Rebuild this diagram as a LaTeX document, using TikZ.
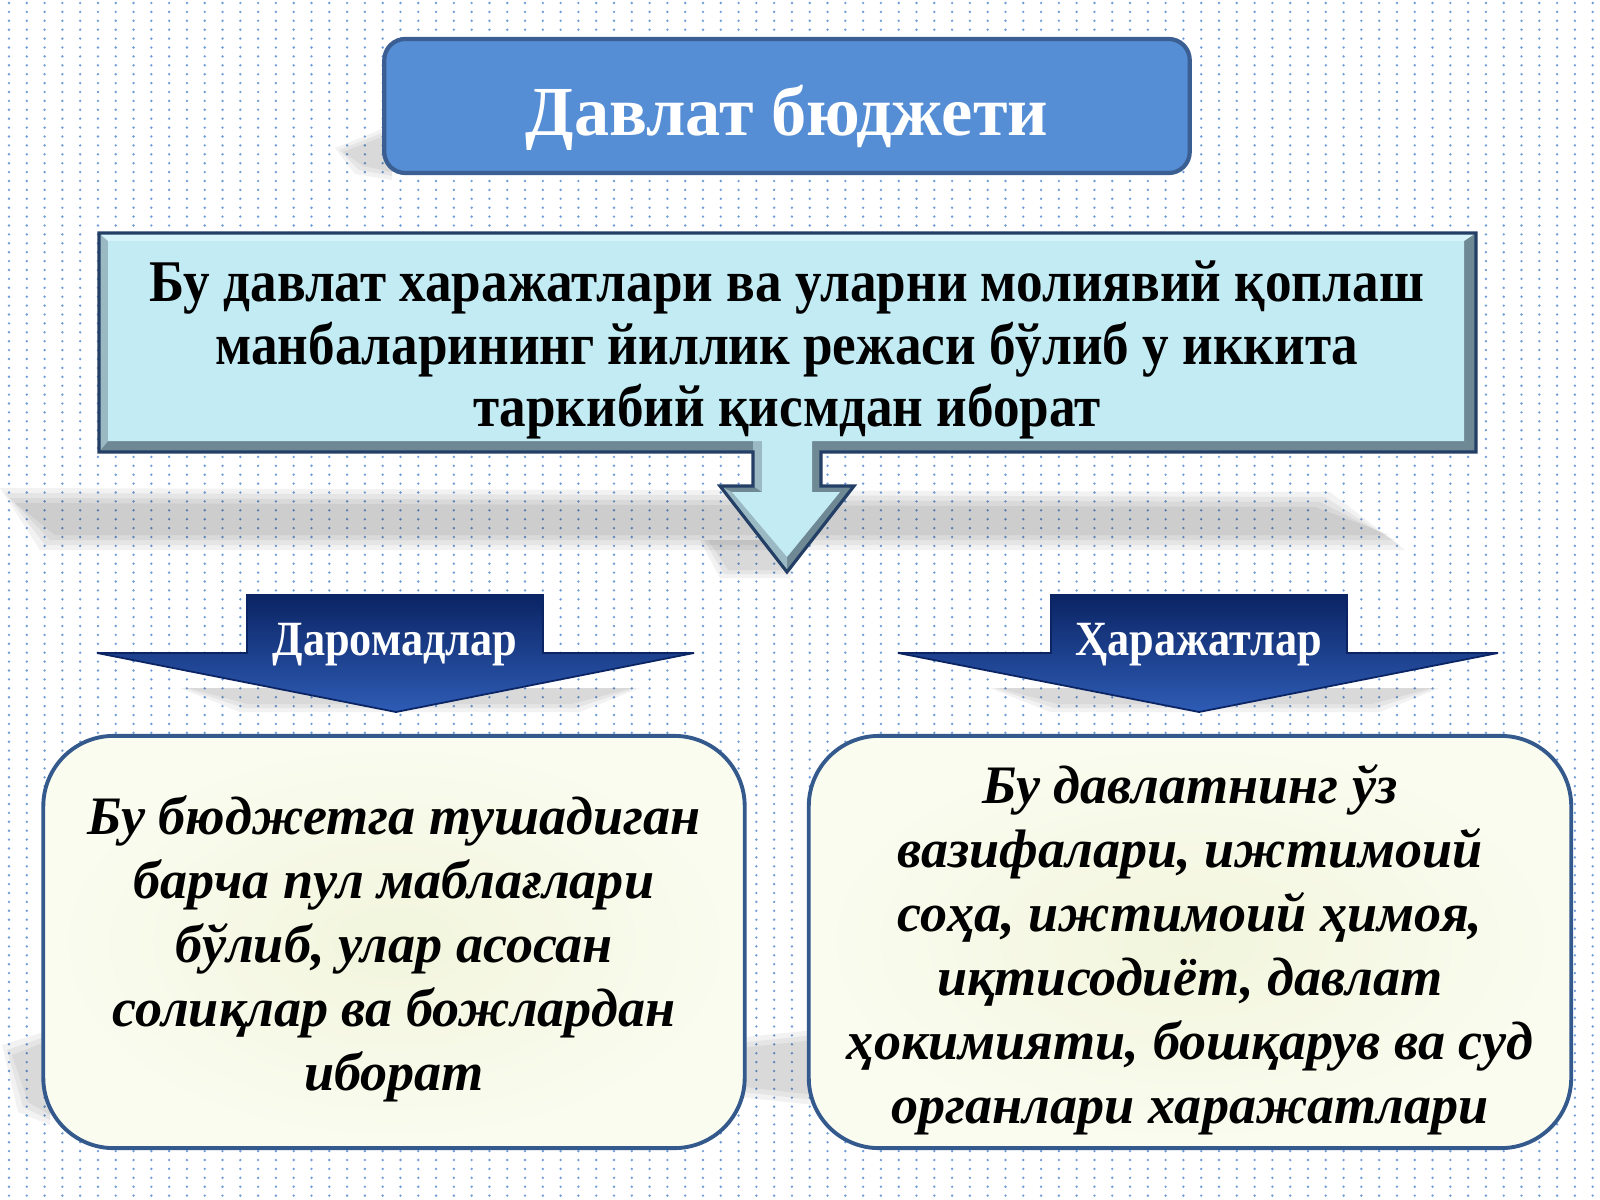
\documentclass[tikz,border=0pt]{standalone}
\usepackage{fontspec}
\setmainfont{Liberation Serif}
\usetikzlibrary{positioning}

\definecolor{titelblaa}{HTML}{558ED5}
\definecolor{titelkant}{HTML}{3B5F92}
\definecolor{lysblaa}{HTML}{C3EBF4}
\definecolor{lystopp}{HTML}{D6F3FA}
\definecolor{kantgraa}{HTML}{6E8894}
\definecolor{lysgraa}{HTML}{9BB9C3}
\definecolor{marine}{HTML}{243F66}
\definecolor{morkblaa}{HTML}{0B2464}
\definecolor{midtblaa}{HTML}{0E2C70}
\definecolor{kantblaa}{HTML}{2E5CB5}
\definecolor{krem}{HTML}{F2F5DC}
\definecolor{kremlys}{HTML}{FAFCF0}
\definecolor{boksekant}{HTML}{34598C}
\definecolor{prikk}{HTML}{6F9CD8}

\begin{document}
\begin{tikzpicture}[x=0.01cm,y=-0.01cm,font=\bfseries]
\tikzset{
    %Define style for the dotted background rows
    prikker/.style={
           draw=prikk,
           line width=0.75pt,
           line cap=round,
           dash pattern=on 0pt off 5.06pt},
    %Define style for soft shadows
    skygge/.style={
           fill=black,
           opacity=0.05,
           draw=none},
    %Define style for title box
    tittel/.style={
           rectangle,
           rounded corners=6pt,
           draw=titelkant, line width=1.2pt,
           fill=titelblaa,
           minimum width=8.05cm,
           minimum height=1.34cm},
    tittelskrift/.style={
           text=white,
           font=\bfseries\fontsize{20}{24}\selectfont},
    % Define style for the dark blue arrows
    pil/.style={
           top color=morkblaa,
           middle color=midtblaa,
           bottom color=kantblaa,
           draw=morkblaa,
           line width=0.5pt},
    pilnavn/.style={
           text=white,
           font=\bfseries\fontsize{14}{16}\selectfont\addfontfeature{FakeStretch=0.9}},
    % Define style for the lower boxes
    kasse/.style={
           rectangle,
           rounded corners=20pt,
           draw=boksekant, line width=1.1pt,
           inner color=krem,
           outer color=kremlys,
           minimum height=4.12cm},
    kasseskrift/.style={
           align=center,
           font=\bfseries\itshape\fontsize{15.4}{18.2}\selectfont}
}
	\useasboundingbox (0,0) rectangle (1600,1200);
	\fill[white] (0,0) rectangle (1600,1200);
	\foreach \r in {0,...,134}
		\draw[prikker] (9,\r*8.9+3) -- (1600,\r*8.9+3);

 %shadows
	\foreach \s in {0,5,10,15}
		\fill[skygge] (0+\s,488+\s) -- (1330-\s,492+\s) -- (1405-\s,550-\s) -- (40+\s,550-\s) -- cycle;
	\foreach \s in {0,4,8}
		\fill[skygge] (700+\s,540) -- (800-\s,540) -- (790-\s,578-\s) -- (720+\s,578-\s) -- cycle;
	\foreach \s in {0,4,8}
		\fill[skygge] (335+\s,148+\s/2) -- (392,125+\s) -- (392,180-\s) -- (355+\s,174-\s) -- cycle;
	\foreach \s in {0,4,8}
		\fill[skygge] (180+\s,688) -- (640-\s,688) -- (580-\s,712-\s) -- (240+\s,712-\s) -- cycle;
	\foreach \s in {0,4,8}
		\fill[skygge] (990+\s,688) -- (1440-\s,688) -- (1380-\s,712-\s) -- (1050+\s,712-\s) -- cycle;
	\foreach \s in {0,5,10}
		\fill[skygge] (2+\s,1045+\s) -- (50,1030+\s) -- (50,1125-\s) -- (18+\s,1112-\s) -- cycle;
	\foreach \s in {0,5,10}
		\fill[skygge] (665+\s,1045+\s) -- (815,1030+\s) -- (815,1105-\s) -- (690+\s,1092-\s) -- cycle;

 %nodes
	\node[tittel] (budsjett) at (787,106) {};
	\node[tittelskrift] (budsjettnavn) at ([yshift=-0.115cm]budsjett.center) {Давлат бюджети};

	% box with the down arrow
	\fill[kantgraa] (99,233) -- (1476,233) -- (1476,452) -- (821,452) -- (821,486) -- (854,486) -- (787,572) -- (720,486) -- (753,486) -- (753,452) -- (99,452) -- cycle;
	\fill[lysgraa] (99,233) -- (108,241) -- (108,441) -- (99,452) -- cycle;
	\fill[lystopp] (99,233) -- (1476,233) -- (1464,241) -- (108,241) -- cycle;
	\fill[lysgraa] (753,441) -- (762,441) -- (762,492) -- (753,486) -- cycle;
	\fill[lysgraa] (720,486) -- (732,492) -- (787,557) -- (787,572) -- cycle;
	\fill[lysblaa] (108,241) -- (1464,241) -- (1464,441) -- (812,441) -- (812,492) -- (840,492) -- (787,557) -- (732,492) -- (762,492) -- (762,441) -- (108,441) -- cycle;
	\draw[marine,line width=0.9pt] (99,233) -- (1476,233) -- (1476,452) -- (821,452) -- (821,486) -- (854,486) -- (787,572) -- (720,486) -- (753,486) -- (753,452) -- (99,452) -- cycle;
	\node[align=center,font=\bfseries\fontsize{16.8}{17.8}\selectfont\addfontfeature{FakeStretch=0.9}] (tarif) at (787,350) {Бу давлат харажатлари ва уларни молиявий қоплаш\\манбаларининг йиллик режаси бўлиб у иккита\\таркибий қисмдан иборат};

	% dark blue arrows
	\fill[pil] (97,653) -- (247,653) -- (247,595) -- (543,595) -- (543,653) -- (694,653) -- (396,712) -- cycle;
	\fill[pil] (898,653) -- (1051,653) -- (1051,595) -- (1347,595) -- (1347,653) -- (1498,653) -- (1199,712) -- cycle;
	\node[pilnavn] (daromad) at (395,645) {Даромадлар};
	\node[pilnavn] (xarajat) at (1199,645) {Ҳаражатлар};

	\node[kasse,minimum width=7.01cm] (daromadbox) at (394,942) {};
	\node[kasseskrift] (daromadtekst) at ([yshift=-0.07cm]daromadbox.center) {Бу бюджетга тушадиган\\барча пул маблағлари\\бўлиб, улар асосан\\солиқлар ва божлардан\\иборат};
	\node[kasse,minimum width=7.62cm] (xarajatbox) at (1190,942) {};
	\node[kasseskrift] (xarajattekst) at ([yshift=-0.08cm]xarajatbox.center) {Бу давлатнинг ўз\\вазифалари, ижтимоий\\соҳа, ижтимоий ҳимоя,\\иқтисодиёт, давлат\\ҳокимияти, бошқарув ва суд\\органлари харажатлари};

\end{tikzpicture}
\end{document}
